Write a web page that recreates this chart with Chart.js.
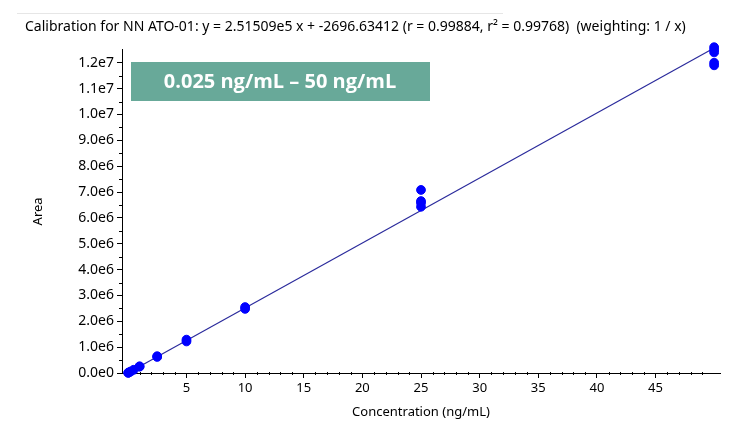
<!DOCTYPE html>
<html>
<head>
<meta charset="utf-8">
<script src="https://cdn.jsdelivr.net/npm/chart.js@4.4.1/dist/chart.umd.min.js"></script>
<style>
  html, body { margin: 0; padding: 0; background: #ffffff; }
  #wrap { width: 750px; height: 438px; position: relative; }
</style>
</head>
<body>
<div id="wrap"><canvas id="calChart" width="750" height="438"></canvas></div>
<script>
const concX = [0.025, 0.05, 0.1, 0.25, 0.5, 1, 1, 2.5, 2.5, 5, 5, 10, 10, 25, 25, 25, 25, 50, 50, 50, 50, 50];
const areaY = [6000, 12500, 25000, 62000, 125000, 245000, 260000, 620000, 650000, 1220000, 1290000, 2480000, 2550000,
  6430000, 6580000, 6650000, 7080000, 11900000, 12000000, 12400000, 12500000, 12600000];

// fitted line end points
const fitX = [0, 50];
const fitY = [-2696.6, 12572753];

const xTicks = [5, 10, 15, 20, 25, 30, 35, 40, 45];
const yTicks = [0, 1e6, 2e6, 3e6, 4e6, 5e6, 6e6, 7e6, 8e6, 9e6, 1e7, 1.1e7, 1.2e7];
const titleText = 'Calibration for NN ATO-01: y = 2.51509e5 x + -2696.63412 (r = 0.99884, r\u00b2 = 0.99768)  (weighting: 1 / x)';
const rangeLabel = '0.025 ng/mL \u2013 50 ng/mL';

const FONT = "'Noto Sans', 'Open Sans', sans-serif";

// small ticks between the labelled ones + the green range box
const extrasPlugin = {
  id: 'extras',
  afterDraw(chart) {
    const ctx = chart.ctx;
    const xs = chart.scales.x;
    const ys = chart.scales.y;
    ctx.save();
    ctx.strokeStyle = '#000';
    ctx.lineWidth = 1;
    ctx.beginPath();
    for (let v = 1; v <= 50; v++) {
      if (v % 5 === 0) continue;
      const px = Math.round(xs.getPixelForValue(v)) + 0.5;
      ctx.moveTo(px, ys.bottom - 1);
      ctx.lineTo(px, ys.bottom + 2);
    }
    for (let v = 500000; v < 12500000; v += 1000000) {
      const py = Math.round(ys.getPixelForValue(v)) + 0.5;
      ctx.moveTo(xs.left - 3, py);
      ctx.lineTo(xs.left + 1, py);
    }
    ctx.stroke();

    // faint frame line at the very top
    ctx.strokeStyle = '#e6e6e6';
    ctx.beginPath();
    ctx.moveTo(17, 13.5);
    ctx.lineTo(503, 13.5);
    ctx.stroke();

    // range box
    ctx.fillStyle = '#68a999';
    ctx.fillRect(131, 62, 299, 39);
    ctx.fillStyle = '#ffffff';
    ctx.font = "bold 20px 'Open Sans', sans-serif";
    ctx.textAlign = 'center';
    ctx.textBaseline = 'middle';
    ctx.fillText(rangeLabel, 280, 82);
    ctx.restore();
  }
};

const ctx = document.getElementById('calChart').getContext('2d');
new Chart(ctx, {
  type: 'scatter',
  data: {
    datasets: [
      {
        type: 'line',
        data: fitX.map((x, i) => ({ x: x, y: fitY[i] })),
        borderColor: '#2b2b9c',
        borderWidth: 1.2,
        pointRadius: 0,
        fill: false,
        clip: false,
        order: 2
      },
      {
        data: concX.map((x, i) => ({ x: x, y: areaY[i] })),
        backgroundColor: '#0000ff',
        borderColor: '#0000ff',
        pointRadius: 4.4,
        pointHoverRadius: 4.4,
        clip: false,
        order: 1
      }
    ]
  },
  options: {
    responsive: false,
    animation: false,
    events: [],
    layout: { padding: { left: 25, right: 30, top: 0, bottom: 18 } },
    plugins: {
      legend: { display: false },
      tooltip: { enabled: false },
      title: {
        display: true,
        text: titleText,
        align: 'start',
        color: '#000',
        font: { family: FONT, size: 14, weight: 'normal' },
        padding: { top: 19, bottom: 14 }
      }
    },
    scales: {
      x: {
        type: 'linear',
        min: -0.5,
        max: 50.5,
        afterBuildTicks: (scale) => { scale.ticks = xTicks.map(v => ({ value: v })); },
        afterFit: (scale) => { scale.height = 47; },
        ticks: { color: '#000', font: { family: FONT, size: 13 }, padding: 2, maxRotation: 0 },
        grid: { drawOnChartArea: false, color: '#000', tickLength: 5 },
        border: { color: '#000', width: 1 },
        title: {
          display: true,
          text: 'Concentration (ng/mL)',
          color: '#000',
          font: { family: FONT, size: 13 },
          padding: { top: 1, bottom: 0 }
        }
      },
      y: {
        type: 'linear',
        min: 0,
        max: 12500000,
        afterBuildTicks: (scale) => { scale.ticks = yTicks.map(v => ({ value: v })); },
        afterFit: (scale) => { scale.width = 97; },
        ticks: {
          color: '#000',
          font: { family: FONT, size: 14 },
          padding: 3,
          callback: (v) => Number(v).toExponential(1).replace('+', '')
        },
        grid: { drawOnChartArea: false, color: '#000', tickLength: 5 },
        border: { color: '#000', width: 1 },
        title: {
          display: true,
          text: 'Area',
          color: '#000',
          font: { family: FONT, size: 13 },
          padding: { top: 5, bottom: 0 }
        }
      }
    }
  },
  plugins: [extrasPlugin]
});
</script>
</body>
</html>
